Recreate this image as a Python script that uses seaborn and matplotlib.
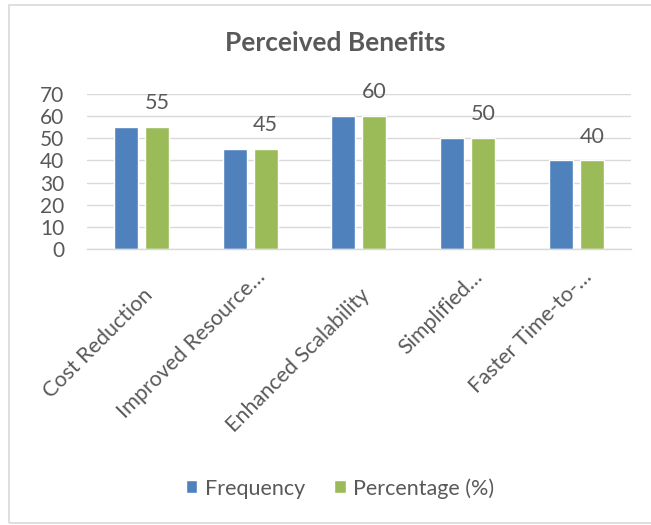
import matplotlib
matplotlib.use("Agg")
import matplotlib.pyplot as plt
from matplotlib.patches import Rectangle
from matplotlib.transforms import ScaledTranslation
import pandas as pd
import seaborn as sns

categories = ["Cost Reduction", "Improved Resource…", "Enhanced Scalability",
              "Simplified…", "Faster Time-to-…"]
frequency = [55, 45, 60, 50, 40]
percentage = [55, 45, 60, 50, 40]
series_names = ["Frequency", "Percentage (%)"]
colors = ["#4F81BD", "#9BBB59"]
yticks = [0, 10, 20, 30, 40, 50, 60, 70]

df = pd.DataFrame({
    "Benefit": categories * 2,
    "Series": [series_names[0]] * len(categories) + [series_names[1]] * len(categories),
    "Value": frequency + percentage,
})

sns.set_theme(style="white")
plt.rcParams["font.family"] = ["Lato", "DejaVu Sans"]
text_color = "#595959"
grid_color = "#D9D9D9"

fig = plt.figure(figsize=(6.51, 5.25), dpi=100)
ax = fig.add_axes([0.1336, 0.5257, 0.8354, 0.2953])

sns.barplot(data=df, x="Benefit", y="Value", hue="Series", order=categories,
            hue_order=series_names, palette=colors, width=0.57, gap=0.23,
            saturation=1, ax=ax, legend=True)

ax.set_ylim(0, 70)
ax.set_yticks(yticks)
ax.set_xlim(-0.5, len(categories) - 0.5)
ax.yaxis.grid(True, color=grid_color, linewidth=1)
ax.set_axisbelow(True)
for s in ["top", "right", "left"]:
    ax.spines[s].set_visible(False)
ax.spines["bottom"].set_color(grid_color)
ax.spines["bottom"].set_linewidth(1)
ax.tick_params(axis="y", length=0, labelsize=15, colors=text_color, pad=16.5)
ax.tick_params(axis="x", length=0)
ax.set_xlabel("")
ax.set_ylabel("")
ax.set_xticks(range(len(categories)))
ax.set_xticklabels([])

# diagonal category labels hanging below the axis; truncated names sit a bit higher
xtrans = ax.get_xaxis_transform()
for i, name in enumerate(categories):
    if name.endswith("…"):
        dx, dy = 16, -29
    else:
        dx, dy = 12.5, -47
    off = ScaledTranslation(dx / 100, dy / 100, fig.dpi_scale_trans)
    ax.text(i, 0, name, transform=xtrans + off, rotation=45,
            rotation_mode="anchor", ha="right", va="baseline",
            fontsize=15.5, color=text_color)

# value labels above the percentage bars
pct_container = ax.containers[1]
ax.bar_label(pct_container, labels=[str(v) for v in percentage], padding=10,
             fontsize=15.5, color=text_color)

fig.text(0.515, 0.918, "Perceived Benefits", ha="center", va="center",
         fontsize=19, fontweight="bold", color=text_color)

handles, labels = ax.get_legend_handles_labels()
ax.get_legend().remove()
fig.legend(handles, labels, loc="center", bbox_to_anchor=(0.522, 0.07), ncol=2,
           frameon=False, fontsize=15.5, handlelength=0.55, handleheight=0.55,
           handletextpad=0.33, columnspacing=1.35, labelcolor=text_color)

fig.patches.append(Rectangle((9 / 651, 1 - 523 / 525), 1.0, (523 - 5) / 525,
                             transform=fig.transFigure, fill=False,
                             edgecolor=grid_color, linewidth=1.2))

fig.savefig("out.png", dpi=100, facecolor="white")
